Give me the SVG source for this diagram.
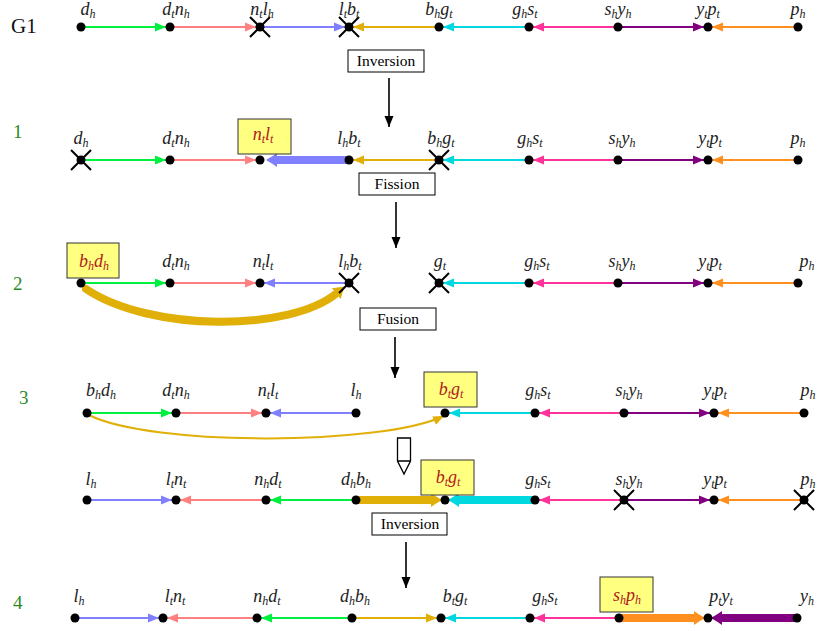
<svg xmlns="http://www.w3.org/2000/svg" width="817" height="631" viewBox="0 0 817 631">
<style>
.lb{font-family:"Liberation Serif",serif;font-style:italic;font-size:18px;text-anchor:middle;fill:#222}
.sb{font-size:12px}
.red{fill:#b02020}
.ybox{fill:#ffff80;stroke:#333;stroke-width:1}
.wbox{fill:#fff;stroke:#000;stroke-width:1}
.bt{font-family:"Liberation Serif",serif;font-size:15.5px;text-anchor:middle;fill:#000}
.num{font-family:"Liberation Serif",serif;font-size:19px;fill:#2a8a2a}
.dot{fill:#000}
.x{stroke:#000;stroke-width:2;fill:none}
.e{fill:none;stroke-width:2}
.t{fill:none;stroke-width:8;stroke-linecap:round}
.down{stroke:#000;stroke-width:1.6;fill:none}
</style>
<defs>
<marker id="aG" markerUnits="userSpaceOnUse" markerWidth="12" markerHeight="10" refX="11" refY="5" orient="auto"><path d="M0,0.5 L11,5 L0,9.5 Z" fill="#00f040"/></marker>
<marker id="aP" markerUnits="userSpaceOnUse" markerWidth="12" markerHeight="10" refX="11" refY="5" orient="auto"><path d="M0,0.5 L11,5 L0,9.5 Z" fill="#ff8080"/></marker>
<marker id="aB" markerUnits="userSpaceOnUse" markerWidth="12" markerHeight="10" refX="11" refY="5" orient="auto"><path d="M0,0.5 L11,5 L0,9.5 Z" fill="#8080ff"/></marker>
<marker id="aY" markerUnits="userSpaceOnUse" markerWidth="12" markerHeight="10" refX="11" refY="5" orient="auto"><path d="M0,0.5 L11,5 L0,9.5 Z" fill="#e0b008"/></marker>
<marker id="aC" markerUnits="userSpaceOnUse" markerWidth="12" markerHeight="10" refX="11" refY="5" orient="auto"><path d="M0,0.5 L11,5 L0,9.5 Z" fill="#00d8e0"/></marker>
<marker id="aM" markerUnits="userSpaceOnUse" markerWidth="12" markerHeight="10" refX="11" refY="5" orient="auto"><path d="M0,0.5 L11,5 L0,9.5 Z" fill="#ff3399"/></marker>
<marker id="aU" markerUnits="userSpaceOnUse" markerWidth="12" markerHeight="10" refX="11" refY="5" orient="auto"><path d="M0,0.5 L11,5 L0,9.5 Z" fill="#800080"/></marker>
<marker id="aO" markerUnits="userSpaceOnUse" markerWidth="12" markerHeight="10" refX="11" refY="5" orient="auto"><path d="M0,0.5 L11,5 L0,9.5 Z" fill="#ff9020"/></marker>
<marker id="aK" markerUnits="userSpaceOnUse" markerWidth="12" markerHeight="10" refX="11" refY="5" orient="auto"><path d="M0,0.5 L11,5 L0,9.5 Z" fill="#000"/></marker>
<marker id="tB" markerUnits="userSpaceOnUse" markerWidth="12" markerHeight="14" refX="1" refY="7" orient="auto"><path d="M0,0 Q4,3 11,7 Q4,11 0,14 Z" fill="#8080ff"/></marker>
<marker id="tY" markerUnits="userSpaceOnUse" markerWidth="12" markerHeight="14" refX="1" refY="7" orient="auto"><path d="M0,0 Q4,3 11,7 Q4,11 0,14 Z" fill="#e0b008"/></marker>
<marker id="tC" markerUnits="userSpaceOnUse" markerWidth="12" markerHeight="14" refX="1" refY="7" orient="auto"><path d="M0,0 Q4,3 11,7 Q4,11 0,14 Z" fill="#00d8e0"/></marker>
<marker id="tO" markerUnits="userSpaceOnUse" markerWidth="12" markerHeight="14" refX="1" refY="7" orient="auto"><path d="M0,0 Q4,3 11,7 Q4,11 0,14 Z" fill="#ff9020"/></marker>
<marker id="tU" markerUnits="userSpaceOnUse" markerWidth="12" markerHeight="14" refX="1" refY="7" orient="auto"><path d="M0,0 Q4,3 11,7 Q4,11 0,14 Z" fill="#800080"/></marker>
</defs>
<rect width="817" height="631" fill="#fff"/>

<g id="row-labels">
<text x="11" y="33" font-family="Liberation Serif, serif" font-size="21" fill="#111">G1</text>
<text class="num" x="13" y="138">1</text>
<text class="num" x="13" y="290">2</text>
<text class="num" x="19" y="404">3</text>
<text class="num" x="13" y="609">4</text>
</g>

<g id="connectors">
<!-- G1 -->
<path class="e" stroke="#00f040" marker-end="url(#aG)" d="M81,27 H166"/>
<path class="e" stroke="#ff8080" marker-end="url(#aP)" d="M170,27 H256"/>
<path class="e" stroke="#8080ff" marker-end="url(#aB)" d="M260,27 H345"/>
<path class="e" stroke="#e0b008" marker-end="url(#aY)" d="M439,27 H353"/>
<path class="e" stroke="#00d8e0" marker-end="url(#aC)" d="M529,27 H443"/>
<path class="e" stroke="#ff3399" marker-end="url(#aM)" d="M618,27 H533"/>
<path class="e" stroke="#800080" marker-end="url(#aU)" d="M618,27 H704"/>
<path class="e" stroke="#ff9020" marker-end="url(#aO)" d="M798,27 H712"/>
<!-- row 1 -->
<path class="e" stroke="#00f040" marker-end="url(#aG)" d="M81,160 H166"/>
<path class="e" stroke="#ff8080" marker-end="url(#aP)" d="M170,160 H256"/>
<path class="t" stroke="#8080ff" marker-end="url(#tB)" d="M349,160 H276"/>
<path class="e" stroke="#e0b008" marker-end="url(#aY)" d="M439,160 H353"/>
<path class="e" stroke="#00d8e0" marker-end="url(#aC)" d="M529,160 H443"/>
<path class="e" stroke="#ff3399" marker-end="url(#aM)" d="M618,160 H533"/>
<path class="e" stroke="#800080" marker-end="url(#aU)" d="M618,160 H704"/>
<path class="e" stroke="#ff9020" marker-end="url(#aO)" d="M798,160 H712"/>
<!-- row 2 -->
<path class="e" stroke="#00f040" marker-end="url(#aG)" d="M81,283 H166"/>
<path class="e" stroke="#ff8080" marker-end="url(#aP)" d="M170,283 H256"/>
<path class="e" stroke="#8080ff" marker-end="url(#aB)" d="M349,283 H264"/>
<path class="t" stroke="#e0b008" marker-end="url(#tY)" d="M86,289 C150,332 290,332 337,293"/>
<path class="e" stroke="#00d8e0" marker-end="url(#aC)" d="M529,283 H443"/>
<path class="e" stroke="#ff3399" marker-end="url(#aM)" d="M618,283 H533"/>
<path class="e" stroke="#800080" marker-end="url(#aU)" d="M618,283 H704"/>
<path class="e" stroke="#ff9020" marker-end="url(#aO)" d="M798,283 H712"/>
<!-- row 3 -->
<path class="e" stroke="#00f040" marker-end="url(#aG)" d="M87,413 H172"/>
<path class="e" stroke="#ff8080" marker-end="url(#aP)" d="M176,413 H262"/>
<path class="e" stroke="#8080ff" marker-end="url(#aB)" d="M356,413 H270"/>
<path class="e" stroke="#e0b008" stroke-width="1.6" fill="none" marker-end="url(#aY)" d="M89,415 C150,446 380,446 444,416"/>
<path class="e" stroke="#00d8e0" marker-end="url(#aC)" d="M535,413 H449"/>
<path class="e" stroke="#ff3399" marker-end="url(#aM)" d="M624,413 H539"/>
<path class="e" stroke="#800080" marker-end="url(#aU)" d="M624,413 H710"/>
<path class="e" stroke="#ff9020" marker-end="url(#aO)" d="M804,413 H718"/>
<!-- row 3b -->
<path class="e" stroke="#8080ff" marker-end="url(#aB)" d="M87,500 H172"/>
<path class="e" stroke="#ff8080" marker-end="url(#aP)" d="M266,500 H180"/>
<path class="e" stroke="#00f040" marker-end="url(#aG)" d="M356,500 H270"/>
<path class="t" stroke="#e0b008" marker-end="url(#tY)" d="M356,500 H432"/>
<path class="t" stroke="#00d8e0" marker-end="url(#tC)" d="M535,500 H458"/>
<path class="e" stroke="#ff3399" marker-end="url(#aM)" d="M624,500 H539"/>
<path class="e" stroke="#800080" marker-end="url(#aU)" d="M624,500 H710"/>
<path class="e" stroke="#ff9020" marker-end="url(#aO)" d="M804,500 H718"/>
<!-- row 4 -->
<path class="e" stroke="#8080ff" marker-end="url(#aB)" d="M75,618 H159"/>
<path class="e" stroke="#ff8080" marker-end="url(#aP)" d="M257,618 H167"/>
<path class="e" stroke="#00f040" marker-end="url(#aG)" d="M352,618 H261"/>
<path class="e" stroke="#e0b008" marker-end="url(#aY)" d="M352,618 H437"/>
<path class="e" stroke="#00d8e0" marker-end="url(#aC)" d="M530,618 H445"/>
<path class="e" stroke="#ff3399" marker-end="url(#aM)" d="M619,618 H534"/>
<path class="t" stroke="#ff9020" marker-end="url(#tO)" d="M619,618 H695"/>
<path class="t" stroke="#800080" marker-end="url(#tU)" d="M797,618 H721"/>
<!-- step arrows -->
<path class="down" marker-end="url(#aK)" d="M389,78 V127"/>
<path class="down" marker-end="url(#aK)" d="M396,202 V248"/>
<path class="down" marker-end="url(#aK)" d="M395,337 V378"/>
<path class="down" marker-end="url(#aK)" d="M406,542 V588"/>
<path fill="#fff" stroke="#000" stroke-width="1.3" d="M397.5,438 H410.5 V461 L404,474 L397.5,461 Z M397.5,461 H410.5"/>
</g>

<g id="operations">
<g id="op-inversion1"><rect class="wbox" x="348" y="50" width="76" height="22"/><text class="bt" x="386" y="66">Inversion</text></g>
<g id="op-fission"><rect class="wbox" x="359" y="173" width="76" height="22"/><text class="bt" x="397" y="189">Fission</text></g>
<g id="op-fusion"><rect class="wbox" x="360" y="308" width="76" height="22"/><text class="bt" x="398" y="324">Fusion</text></g>
<g id="op-inversion2"><rect class="wbox" x="372" y="513" width="75" height="22"/><text class="bt" x="410" y="529">Inversion</text></g>
</g>

<!-- G1 nodes -->
<g id="g1-dh"><circle class="dot" cx="81" cy="27" r="4.5"/><text class="lb" x="88" y="15">d<tspan class="sb" dy="3">h</tspan></text></g>
<g id="g1-dtnh"><circle class="dot" cx="170" cy="27" r="4.5"/><text class="lb" x="176" y="15">d<tspan class="sb" dy="3">t</tspan><tspan dy="-3">n</tspan><tspan class="sb" dy="3">h</tspan></text></g>
<g id="g1-ntlh"><circle class="dot" cx="260" cy="27" r="4.5"/><path class="x" d="M250,17 L270,37 M250,37 L270,17"/><text class="lb" x="262" y="15">n<tspan class="sb" dy="3">t</tspan><tspan dy="-3">l</tspan><tspan class="sb" dy="3">h</tspan></text></g>
<g id="g1-ltbt"><circle class="dot" cx="349" cy="27" r="4.5"/><path class="x" d="M339,17 L359,37 M339,37 L359,17"/><text class="lb" x="349" y="15">l<tspan class="sb" dy="3">t</tspan><tspan dy="-3">b</tspan><tspan class="sb" dy="3">t</tspan></text></g>
<g id="g1-bhgt"><circle class="dot" cx="439" cy="27" r="4.5"/><text class="lb" x="439" y="15">b<tspan class="sb" dy="3">h</tspan><tspan dy="-3">g</tspan><tspan class="sb" dy="3">t</tspan></text></g>
<g id="g1-ghst"><circle class="dot" cx="529" cy="27" r="4.5"/><text class="lb" x="525" y="15">g<tspan class="sb" dy="3">h</tspan><tspan dy="-3">s</tspan><tspan class="sb" dy="3">t</tspan></text></g>
<g id="g1-shyh"><circle class="dot" cx="618" cy="27" r="4.5"/><text class="lb" x="618" y="15">s<tspan class="sb" dy="3">h</tspan><tspan dy="-3">y</tspan><tspan class="sb" dy="3">h</tspan></text></g>
<g id="g1-ytpt"><circle class="dot" cx="708" cy="27" r="4.5"/><text class="lb" x="708" y="15">y<tspan class="sb" dy="3">t</tspan><tspan dy="-3">p</tspan><tspan class="sb" dy="3">t</tspan></text></g>
<g id="g1-ph"><circle class="dot" cx="798" cy="27" r="4.5"/><text class="lb" x="798" y="15">p<tspan class="sb" dy="3">h</tspan></text></g>

<!-- Row 1 nodes -->
<g id="r1-dh"><circle class="dot" cx="81" cy="160" r="4.5"/><path class="x" d="M71,150 L91,170 M71,170 L91,150"/><text class="lb" x="81" y="144">d<tspan class="sb" dy="3">h</tspan></text></g>
<g id="r1-dtnh"><circle class="dot" cx="170" cy="160" r="4.5"/><text class="lb" x="176" y="144">d<tspan class="sb" dy="3">t</tspan><tspan dy="-3">n</tspan><tspan class="sb" dy="3">h</tspan></text></g>
<g id="r1-ntlt"><circle class="dot" cx="260" cy="160" r="4.5"/><rect class="ybox" x="238" y="119" width="53" height="35"/><text class="lb red" x="263" y="140">n<tspan class="sb" dy="3">t</tspan><tspan dy="-3">l</tspan><tspan class="sb" dy="3">t</tspan></text></g>
<g id="r1-lhbt"><circle class="dot" cx="349" cy="160" r="4.5"/><text class="lb" x="349" y="144">l<tspan class="sb" dy="3">h</tspan><tspan dy="-3">b</tspan><tspan class="sb" dy="3">t</tspan></text></g>
<g id="r1-bhgt"><circle class="dot" cx="439" cy="160" r="4.5"/><path class="x" d="M429,150 L449,170 M429,170 L449,150"/><text class="lb" x="441" y="144">b<tspan class="sb" dy="3">h</tspan><tspan dy="-3">g</tspan><tspan class="sb" dy="3">t</tspan></text></g>
<g id="r1-ghst"><circle class="dot" cx="529" cy="160" r="4.5"/><text class="lb" x="530" y="144">g<tspan class="sb" dy="3">h</tspan><tspan dy="-3">s</tspan><tspan class="sb" dy="3">t</tspan></text></g>
<g id="r1-shyh"><circle class="dot" cx="618" cy="160" r="4.5"/><text class="lb" x="622" y="144">s<tspan class="sb" dy="3">h</tspan><tspan dy="-3">y</tspan><tspan class="sb" dy="3">h</tspan></text></g>
<g id="r1-ytpt"><circle class="dot" cx="708" cy="160" r="4.5"/><text class="lb" x="710" y="144">y<tspan class="sb" dy="3">t</tspan><tspan dy="-3">p</tspan><tspan class="sb" dy="3">t</tspan></text></g>
<g id="r1-ph"><circle class="dot" cx="798" cy="160" r="4.5"/><text class="lb" x="798" y="144">p<tspan class="sb" dy="3">h</tspan></text></g>

<!-- Row 2 nodes -->
<g id="r2-bhdh"><circle class="dot" cx="81" cy="283" r="4.5"/><rect class="ybox" x="67" y="243" width="52" height="35"/><text class="lb red" x="94" y="267">b<tspan class="sb" dy="3">h</tspan><tspan dy="-3">d</tspan><tspan class="sb" dy="3">h</tspan></text></g>
<g id="r2-dtnh"><circle class="dot" cx="170" cy="283" r="4.5"/><text class="lb" x="176" y="267">d<tspan class="sb" dy="3">t</tspan><tspan dy="-3">n</tspan><tspan class="sb" dy="3">h</tspan></text></g>
<g id="r2-ntlt"><circle class="dot" cx="260" cy="283" r="4.5"/><text class="lb" x="263" y="267">n<tspan class="sb" dy="3">t</tspan><tspan dy="-3">l</tspan><tspan class="sb" dy="3">t</tspan></text></g>
<g id="r2-lhbt"><circle class="dot" cx="349" cy="283" r="4.5"/><path class="x" d="M339,273 L359,293 M339,293 L359,273"/><text class="lb" x="350" y="267">l<tspan class="sb" dy="3">h</tspan><tspan dy="-3">b</tspan><tspan class="sb" dy="3">t</tspan></text></g>
<g id="r2-gt"><circle class="dot" cx="439" cy="283" r="4.5"/><path class="x" d="M429,273 L449,293 M429,293 L449,273"/><text class="lb" x="440" y="267">g<tspan class="sb" dy="3">t</tspan></text></g>
<g id="r2-ghst"><circle class="dot" cx="529" cy="283" r="4.5"/><text class="lb" x="537" y="267">g<tspan class="sb" dy="3">h</tspan><tspan dy="-3">s</tspan><tspan class="sb" dy="3">t</tspan></text></g>
<g id="r2-shyh"><circle class="dot" cx="618" cy="283" r="4.5"/><text class="lb" x="622" y="267">s<tspan class="sb" dy="3">h</tspan><tspan dy="-3">y</tspan><tspan class="sb" dy="3">h</tspan></text></g>
<g id="r2-ytpt"><circle class="dot" cx="708" cy="283" r="4.5"/><text class="lb" x="710" y="267">y<tspan class="sb" dy="3">t</tspan><tspan dy="-3">p</tspan><tspan class="sb" dy="3">t</tspan></text></g>
<g id="r2-ph"><circle class="dot" cx="798" cy="283" r="4.5"/><text class="lb" x="807" y="267">p<tspan class="sb" dy="3">h</tspan></text></g>

<!-- Row 3 nodes -->
<g id="r3-bhdh"><circle class="dot" cx="87" cy="413" r="4.5"/><text class="lb" x="101" y="396">b<tspan class="sb" dy="3">h</tspan><tspan dy="-3">d</tspan><tspan class="sb" dy="3">h</tspan></text></g>
<g id="r3-dtnh"><circle class="dot" cx="176" cy="413" r="4.5"/><text class="lb" x="176" y="396">d<tspan class="sb" dy="3">t</tspan><tspan dy="-3">n</tspan><tspan class="sb" dy="3">h</tspan></text></g>
<g id="r3-ntlt"><circle class="dot" cx="266" cy="413" r="4.5"/><text class="lb" x="268" y="396">n<tspan class="sb" dy="3">t</tspan><tspan dy="-3">l</tspan><tspan class="sb" dy="3">t</tspan></text></g>
<g id="r3-lh"><circle class="dot" cx="356" cy="413" r="4.5"/><text class="lb" x="356" y="396">l<tspan class="sb" dy="3">h</tspan></text></g>
<g id="r3-btgt"><circle class="dot" cx="445" cy="413" r="4.5"/><rect class="ybox" x="424" y="372" width="53" height="35"/><text class="lb red" x="451" y="395">b<tspan class="sb" dy="3">t</tspan><tspan dy="-3">g</tspan><tspan class="sb" dy="3">t</tspan></text></g>
<g id="r3-ghst"><circle class="dot" cx="535" cy="413" r="4.5"/><text class="lb" x="538" y="396">g<tspan class="sb" dy="3">h</tspan><tspan dy="-3">s</tspan><tspan class="sb" dy="3">t</tspan></text></g>
<g id="r3-shyh"><circle class="dot" cx="624" cy="413" r="4.5"/><text class="lb" x="629" y="396">s<tspan class="sb" dy="3">h</tspan><tspan dy="-3">y</tspan><tspan class="sb" dy="3">h</tspan></text></g>
<g id="r3-ytpt"><circle class="dot" cx="714" cy="413" r="4.5"/><text class="lb" x="715" y="396">y<tspan class="sb" dy="3">t</tspan><tspan dy="-3">p</tspan><tspan class="sb" dy="3">t</tspan></text></g>
<g id="r3-ph"><circle class="dot" cx="804" cy="413" r="4.5"/><text class="lb" x="808" y="396">p<tspan class="sb" dy="3">h</tspan></text></g>

<!-- Row 3b nodes -->
<g id="r3b-lh"><circle class="dot" cx="87" cy="500" r="4.5"/><text class="lb" x="91" y="485">l<tspan class="sb" dy="3">h</tspan></text></g>
<g id="r3b-ltnt"><circle class="dot" cx="176" cy="500" r="4.5"/><text class="lb" x="176" y="485">l<tspan class="sb" dy="3">t</tspan><tspan dy="-3">n</tspan><tspan class="sb" dy="3">t</tspan></text></g>
<g id="r3b-nhdt"><circle class="dot" cx="266" cy="500" r="4.5"/><text class="lb" x="268" y="485">n<tspan class="sb" dy="3">h</tspan><tspan dy="-3">d</tspan><tspan class="sb" dy="3">t</tspan></text></g>
<g id="r3b-dhbh"><circle class="dot" cx="356" cy="500" r="4.5"/><text class="lb" x="356" y="485">d<tspan class="sb" dy="3">h</tspan><tspan dy="-3">b</tspan><tspan class="sb" dy="3">h</tspan></text></g>
<g id="r3b-btgt"><circle class="dot" cx="445" cy="500" r="4.5"/><rect class="ybox" x="421" y="460" width="53" height="35"/><text class="lb red" x="448" y="483">b<tspan class="sb" dy="3">t</tspan><tspan dy="-3">g</tspan><tspan class="sb" dy="3">t</tspan></text></g>
<g id="r3b-ghst"><circle class="dot" cx="535" cy="500" r="4.5"/><text class="lb" x="538" y="485">g<tspan class="sb" dy="3">h</tspan><tspan dy="-3">s</tspan><tspan class="sb" dy="3">t</tspan></text></g>
<g id="r3b-shyh"><circle class="dot" cx="624" cy="500" r="4.5"/><path class="x" d="M614,490 L634,510 M614,510 L634,490"/><text class="lb" x="629" y="485">s<tspan class="sb" dy="3">h</tspan><tspan dy="-3">y</tspan><tspan class="sb" dy="3">h</tspan></text></g>
<g id="r3b-ytpt"><circle class="dot" cx="714" cy="500" r="4.5"/><text class="lb" x="715" y="485">y<tspan class="sb" dy="3">t</tspan><tspan dy="-3">p</tspan><tspan class="sb" dy="3">t</tspan></text></g>
<g id="r3b-ph"><circle class="dot" cx="804" cy="500" r="4.5"/><path class="x" d="M794,490 L814,510 M794,510 L814,490"/><text class="lb" x="808" y="485">p<tspan class="sb" dy="3">h</tspan></text></g>

<!-- Row 4 nodes -->
<g id="r4-lh"><circle class="dot" cx="75" cy="618" r="4.5"/><text class="lb" x="79" y="602">l<tspan class="sb" dy="3">h</tspan></text></g>
<g id="r4-ltnt"><circle class="dot" cx="163" cy="618" r="4.5"/><text class="lb" x="175" y="602">l<tspan class="sb" dy="3">t</tspan><tspan dy="-3">n</tspan><tspan class="sb" dy="3">t</tspan></text></g>
<g id="r4-nhdt"><circle class="dot" cx="257" cy="618" r="4.5"/><text class="lb" x="267" y="602">n<tspan class="sb" dy="3">h</tspan><tspan dy="-3">d</tspan><tspan class="sb" dy="3">t</tspan></text></g>
<g id="r4-dhbh"><circle class="dot" cx="352" cy="618" r="4.5"/><text class="lb" x="355" y="602">d<tspan class="sb" dy="3">h</tspan><tspan dy="-3">b</tspan><tspan class="sb" dy="3">h</tspan></text></g>
<g id="r4-btgt"><circle class="dot" cx="441" cy="618" r="4.5"/><text class="lb" x="455" y="602">b<tspan class="sb" dy="3">t</tspan><tspan dy="-3">g</tspan><tspan class="sb" dy="3">t</tspan></text></g>
<g id="r4-ghst"><circle class="dot" cx="530" cy="618" r="4.5"/><text class="lb" x="545" y="602">g<tspan class="sb" dy="3">h</tspan><tspan dy="-3">s</tspan><tspan class="sb" dy="3">t</tspan></text></g>
<g id="r4-shph"><circle class="dot" cx="619" cy="618" r="4.5"/><rect class="ybox" x="600" y="577" width="53" height="35"/><text class="lb red" x="627" y="601">s<tspan class="sb" dy="3">h</tspan><tspan dy="-3">p</tspan><tspan class="sb" dy="3">h</tspan></text></g>
<g id="r4-ptyt"><circle class="dot" cx="708" cy="618" r="4.5"/><text class="lb" x="721" y="602">p<tspan class="sb" dy="3">t</tspan><tspan dy="-3">y</tspan><tspan class="sb" dy="3">t</tspan></text></g>
<g id="r4-yh"><circle class="dot" cx="797" cy="618" r="4.5"/><text class="lb" x="807" y="602">y<tspan class="sb" dy="3">h</tspan></text></g>
</svg>
